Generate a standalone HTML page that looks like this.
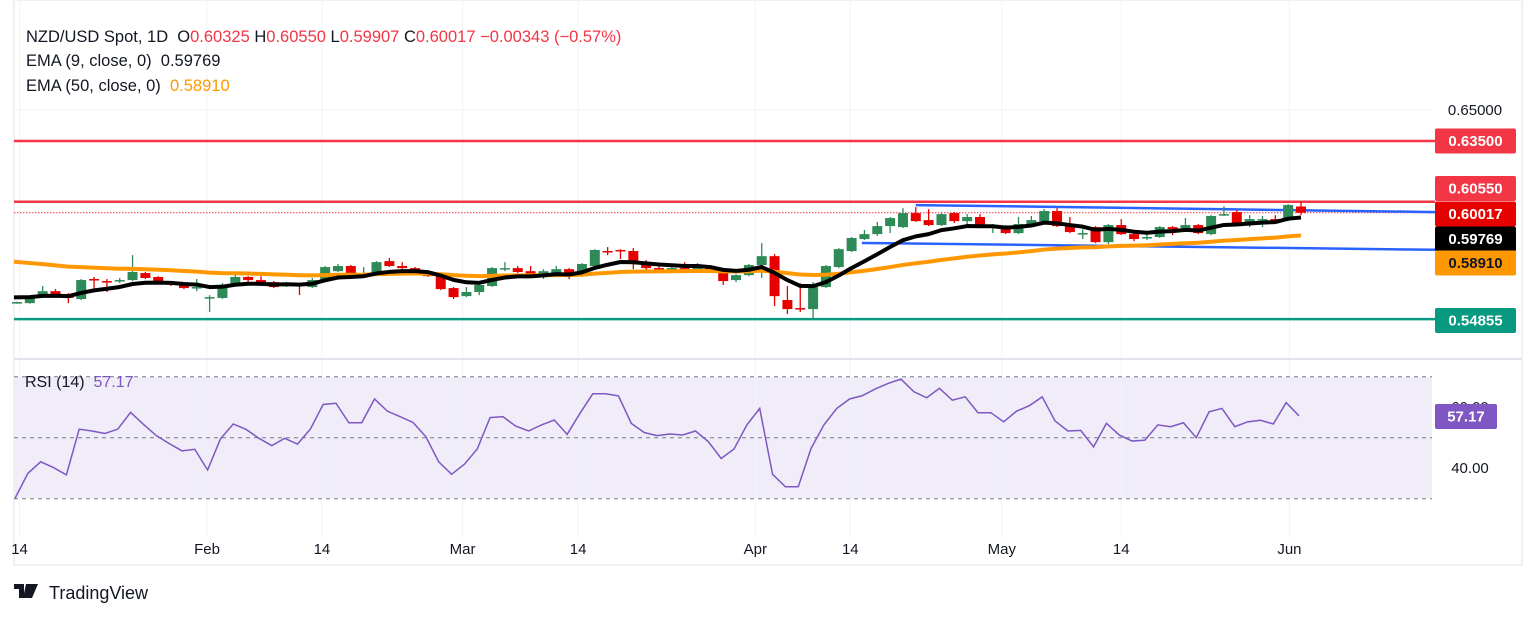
<!DOCTYPE html>
<html><head><meta charset="utf-8"><style>
html,body{margin:0;padding:0;background:#fff;width:1536px;height:617px;overflow:hidden;font-family:"Liberation Sans",sans-serif}
svg text{font-family:"Liberation Sans",sans-serif}
</style></head><body>
<svg id="chart" width="1536" height="617" viewBox="0 0 1536 617" xmlns="http://www.w3.org/2000/svg">
<rect x="14" y="0" width="1508" height="565" fill="none" stroke="#e0e3eb"/>
<rect x="14" y="377" width="1418" height="121" fill="#f0ecf8"/>
<g id="grid"></g>
<line x1="14" y1="359" x2="1522" y2="359" stroke="#e0e3eb" stroke-width="2"/>
<g id="levels"></g>
<g id="candles"></g>
<g id="emas"></g>
<g id="rsi"></g>
<g id="labels"></g>
<g id="xaxis"></g>
<g font-size="16.5">
<text x="26" y="42" fill="#131722">NZD/USD Spot, 1D&#160;&#160;O<tspan fill="#f23645">0.60325</tspan> H<tspan fill="#f23645">0.60550</tspan> L<tspan fill="#f23645">0.59907</tspan> C<tspan fill="#f23645">0.60017</tspan> <tspan fill="#f23645">−0.00343 (−0.57%)</tspan></text>
<text x="26" y="66" fill="#131722">EMA (9, close, 0)&#160;&#160;<tspan fill="#131722">0.59769</tspan></text>
<text x="26" y="91" fill="#131722">EMA (50, close, 0)&#160;&#160;<tspan fill="#ff9800">0.58910</tspan></text>
<text x="25" y="387" fill="#131722" font-size="16">RSI (14)&#160;&#160;<tspan fill="#7e57c2">57.17</tspan></text>
</g>
<g>
<path d="M14 584h10v14h-5v-9h-5z M26 584h4l-3 14h-4z M30 584h8l-6 14h-5z" fill="#131722"/>
<text x="49" y="599" font-size="18" fill="#131722">TradingView</text>
</g>
</svg>
<script>
const opens=[.5563,.5563,.5597,.5621,.5607,.5583,.5680,.5670,.5670,.5675,.5709,.5690,.5665,.5656,.5636,.5588,.5588,.5651,.5690,.5675,.5665,.5646,.5656,.5641,.5675,.5718,.5743,.5704,.5699,.5767,.5743,.5733,.5718,.5694,.5636,.5597,.5617,.5646,.5728,.5733,.5718,.5694,.5699,.5728,.5694,.5743,.5816,.5821,.5816,.5757,.5733,.5728,.5733,.5723,.5743,.5718,.5675,.5699,.5748,.5791,.5578,.5539,.5534,.5641,.5738,.5816,.5874,.5898,.5937,.5932,.6000,.5966,.5942,.6000,.5961,.5981,.5932,.5937,.5903,.5947,.5961,.6010,.5937,.5898,.5932,.5859,.5942,.5898,.5879,.5884,.5932,.5927,.5942,.5898,.5990,.6005,.5952,.5966,.5971,.5966,.6032];
const highs=[.5570,.5600,.5646,.5631,.5612,.5680,.5690,.5680,.5685,.5796,.5714,.5694,.5670,.5660,.5680,.5602,.5660,.5704,.5694,.5694,.5670,.5665,.5660,.5685,.5743,.5753,.5748,.5738,.5767,.5782,.5762,.5738,.5723,.5699,.5641,.5641,.5656,.5738,.5762,.5743,.5743,.5728,.5743,.5733,.5757,.5825,.5835,.5825,.5830,.5772,.5743,.5743,.5762,.5757,.5748,.5723,.5704,.5753,.5854,.5801,.5646,.5660,.5665,.5748,.5830,.5884,.5918,.5957,.5981,.6024,.6029,.6019,.6000,.6005,.5995,.5995,.5947,.5942,.5981,.5986,.6019,.6024,.5981,.5922,.5937,.5947,.5971,.5903,.5903,.5937,.5937,.5976,.5947,.5990,.6034,.6015,.5990,.5986,.5990,.6044,.6055];
const lows=[.5560,.5560,.5592,.5597,.5563,.5578,.5617,.5617,.5660,.5670,.5680,.5656,.5646,.5631,.5621,.5520,.5583,.5646,.5665,.5651,.5636,.5641,.5602,.5636,.5670,.5714,.5694,.5690,.5694,.5738,.5728,.5714,.5690,.5626,.5583,.5592,.5602,.5641,.5718,.5709,.5690,.5680,.5694,.5680,.5690,.5738,.5796,.5777,.5728,.5718,.5718,.5718,.5714,.5718,.5714,.5651,.5665,.5694,.5685,.5549,.5510,.5520,.5491,.5636,.5733,.5811,.5869,.5889,.5903,.5928,.5957,.5937,.5937,.5952,.5937,.5928,.5903,.5898,.5898,.5942,.5957,.5932,.5903,.5874,.5854,.5850,.5893,.5864,.5869,.5879,.5893,.5922,.5898,.5893,.5986,.5947,.5932,.5932,.5961,.5961,.5991];
const closes=[.5568,.5597,.5621,.5602,.5588,.5675,.5675,.5665,.5675,.5714,.5685,.5665,.5656,.5636,.5641,.5592,.5651,.5690,.5675,.5656,.5641,.5660,.5646,.5675,.5738,.5743,.5699,.5709,.5762,.5743,.5733,.5718,.5694,.5631,.5592,.5617,.5651,.5733,.5733,.5714,.5694,.5718,.5728,.5694,.5753,.5821,.5811,.5816,.5757,.5733,.5728,.5733,.5728,.5743,.5718,.5670,.5699,.5748,.5791,.5597,.5534,.5534,.5641,.5743,.5825,.5879,.5898,.5937,.5976,.6000,.5961,.5942,.5995,.5961,.5981,.5932,.5937,.5903,.5947,.5966,.6010,.5937,.5908,.5903,.5859,.5942,.5898,.5874,.5884,.5932,.5922,.5942,.5903,.5986,.5995,.5952,.5971,.5971,.5966,.6039,.6002];
const rsiValues=[30.1,38.3,42.1,40.2,37.8,52.8,52.2,51.4,52.8,58.3,54.4,50.7,48.1,45.7,46.2,39.4,49.6,54.5,52.7,49.8,47.4,49.8,47.9,52.8,60.9,61.3,54.9,54.9,62.7,58.7,56.9,55.0,50.3,42.1,38.0,41.3,46.3,56.6,56.9,53.8,52.2,54.2,55.8,51.1,58.0,64.4,64.4,63.7,54.7,51.7,50.7,51.2,50.9,52.2,48.7,43.2,46.3,54.2,59.6,38.0,33.9,33.9,46.5,54.2,59.6,62.7,63.8,66.0,67.8,69.2,65.1,63.1,66.2,62.3,63.4,58.2,58.2,55.2,58.7,60.5,63.4,55.5,52.2,52.4,47.0,54.7,50.9,48.9,49.2,54.2,53.6,54.9,50.0,58.5,59.6,53.6,55.2,55.7,54.5,61.5,57.17];
const ema9Seed=0.5597;
const ema50Seed=0.5772;
const dateLabels=["14","Feb","14","Mar","14","Apr","14","May","14","Jun"];
const dateIndex=[0.2,14.8,23.75,34.7,43.7,57.5,64.9,76.7,86,99.1];
const levelPrices=[0.6350,0.6055,0.54855];
const upperTrend=[0.6039,0.6005];
const lowerTrend=[0.5855,0.5822];

const NS="http://www.w3.org/2000/svg";
const xOf=i=>17+12.84*i;
const yOf=p=>141+(0.635-p)*2060;
const yR=v=>437.7-(v-50)*3.05;
function mk(tag,attrs,parent){const e=document.createElementNS(NS,tag);for(const k in attrs)e.setAttribute(k,attrs[k]);parent.appendChild(e);return e;}
const G=id=>document.getElementById(id);

const grid=G('grid');
dateIndex.forEach((di,k)=>{
  const x=xOf(di);
  const l=mk('line',{x1:x,y1:0,x2:x,y2:538,stroke:'#f0f3fa','stroke-width':1},grid);
  
  
});
[0.65].forEach(p=>{const l=mk('line',{x1:14,y1:yOf(p),x2:1432,y2:yOf(p),stroke:'#f0f3fa'},grid);

});

const lv=G('levels');
const levelColors=['#f23645','#f23645','#089981'];
levelPrices.forEach((p,k)=>{
  const l=mk('line',{x1:14,y1:yOf(p),x2:1435,y2:yOf(p),stroke:levelColors[k],'stroke-width':2.5},lv);
  
  
});
const lastClose=closes[closes.length-1];
const dl=mk('line',{x1:14,y1:yOf(lastClose),x2:1435,y2:yOf(lastClose),stroke:'#f23645','stroke-width':1,'stroke-dasharray':'1.5 1.5'},lv);


const tu=mk('line',{x1:xOf(70),y1:yOf(upperTrend[0]),x2:1435,y2:yOf(upperTrend[1]),stroke:'#2962ff','stroke-width':2.5},lv);


const tl=mk('line',{x1:xOf(65.8),y1:yOf(lowerTrend[0]),x2:1435,y2:yOf(lowerTrend[1]),stroke:'#2962ff','stroke-width':2.5},lv);



const cg=G('candles');
closes.forEach((c,i)=>{
  const o=opens[i],up=c>=o,col=up?'#2e8b57':'#e60000';
  const x=xOf(i);
  const w=mk('line',{x1:x,y1:yOf(highs[i]),x2:x,y2:yOf(lows[i]),stroke:col,'stroke-width':1.3},cg);
  
  
  const top=yOf(Math.max(o,c)),bot=yOf(Math.min(o,c));
  const b=mk('rect',{x:x-5,y:top,width:10,height:Math.max(1.5,bot-top),fill:col},cg);
  
  
});

function ema(seed,n){const a=2/(n+1);let e=seed;return closes.map((c,i)=>{if(i>0)e=e+a*(c-e);else e=seed+a*(c-seed);return e;});}
const e9=ema(ema9Seed,9),e50=ema(ema50Seed,50);
const eg=G('emas');
const p50=mk('polyline',{points:e50.map((v,i)=>[i===0?14:xOf(i),yOf(v)].join(',')).join(' '),fill:'none',stroke:'#ff9800','stroke-width':4,'stroke-linejoin':'round'},eg);


const p9=mk('polyline',{points:e9.map((v,i)=>[i===0?14:xOf(i),yOf(v)].join(',')).join(' '),fill:'none',stroke:'#000','stroke-width':4,'stroke-linejoin':'round'},eg);



const rg=G('rsi');
[70,50,30].forEach(v=>{const l=mk('line',{x1:14,y1:yR(v),x2:1432,y2:yR(v),stroke:'#787b86','stroke-dasharray':'4 4'},rg);

});
const rl=mk('polyline',{points:rsiValues.map((v,i)=>[xOf(i)-2,yR(v)].join(',')).join(' '),fill:'none',stroke:'#7e57c2','stroke-width':1.5},rg);



const lb=G('labels');
function tag(text,cy,bg,fg,name){
  const r=mk('rect',{x:1435,y:cy-12.5,width:81,height:25,rx:2,fill:bg},lb);
  
  
  const t=mk('text',{x:1475.5,y:cy+5,'text-anchor':'middle','font-size':15,'font-weight':'bold',fill:fg},lb);
  t.textContent=text;
  
  
}
const t65=mk('text',{x:1475,y:yOf(0.65)+5,'text-anchor':'middle','font-size':15,fill:'#131722'},lb);
t65.textContent='0.65000';


const t40=mk('text',{x:1470,y:yR(40)+5,'text-anchor':'middle','font-size':15,fill:'#131722'},lb);
t40.textContent='40.00';


const t60=mk('text',{x:1470,y:yR(60)+5,'text-anchor':'middle','font-size':15,fill:'#131722'},lb);
t60.textContent='60.00';


tag('0.63500',141,'#f23645','#fff','label-0635');
tag('0.60550',188.5,'#f23645','#fff','label-high');
tag('0.60017',214,'#e60000','#fff','label-last');
tag('0.59769',239,'#000','#fff','label-ema9');
tag('0.58910',263,'#ff9800','#131722','label-ema50');
tag('0.54855',320.5,'#089981','#fff','label-054855');
const rr=mk('rect',{x:1435,y:404,width:62,height:25,rx:2,fill:'#7e57c2'},lb);


const rt=mk('text',{x:1466,y:421.5,'text-anchor':'middle','font-size':15,'font-weight':'bold',fill:'#fff'},lb);
rt.textContent=rsiValues[rsiValues.length-1].toFixed(2);



const xg=G('xaxis');
dateLabels.forEach((s,k)=>{
  const x=xOf(dateIndex[k]);
  const t=mk('text',{x:x,y:554,'text-anchor':'middle','font-size':15,fill:'#131722'},xg);
  t.textContent=s;
  
  
});
</script>
</body></html>
